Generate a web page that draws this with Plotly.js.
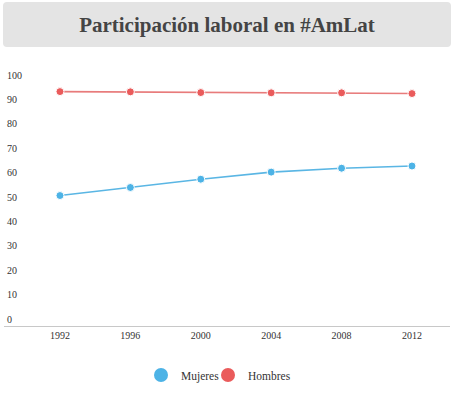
<!DOCTYPE html>
<html>
<head>
<meta charset="utf-8">
<script src="https://cdn.plot.ly/plotly-3.0.1.min.js"></script>
<style>html,body{margin:0;padding:0;background:#fff;}#chart{width:454px;height:396px;}</style>
</head>
<body>
<div id="chart"></div>
<script>
const years = [1992, 1996, 2000, 2004, 2008, 2012];
const mujeres = [50.6, 53.9, 57.3, 60.2, 61.8, 62.7];
const hombres = [93.2, 93.1, 92.8, 92.7, 92.7, 92.4];
const yTicks = [0, 10, 20, 30, 40, 50, 60, 70, 80, 90, 100];
const seriesNames = ['Mujeres', 'Hombres'];
const titleText = 'Participación laboral en #AmLat';

const W = 454, H = 396;
const M = {l: 4, r: 4, t: 60, b: 70};
const pw = W - M.l - M.r, ph = H - M.t - M.b;
const px = x => (x - M.l) / pw;
const py = y => (H - M.b - y) / ph;

const blue = '#4db3e6', red = '#ea5b5b';
const blueLine = '#5ab6e4', redLine = '#e87b7b';
const serif = '"Liberation Serif", "DejaVu Serif", serif';

const traces = [
  {x: years, y: mujeres, name: seriesNames[0], mode: 'lines+markers', showlegend: false,
   line: {color: blueLine, width: 1.6}, marker: {color: blue, size: 8, line: {color: '#fff', width: 1}}},
  {x: years, y: hombres, name: seriesNames[1], mode: 'lines+markers', showlegend: false,
   line: {color: redLine, width: 1.6}, marker: {color: red, size: 8, line: {color: '#fff', width: 1}}},
  {x: [null], y: [null], name: seriesNames[0], mode: 'markers', legend: 'legend', marker: {color: blue, size: 14}},
  {x: [null], y: [null], name: seriesNames[1], mode: 'markers', legend: 'legend2', marker: {color: red, size: 14}}
];

const legFont = {family: serif, size: 11.5, color: '#333'};
const clear = 'rgba(0,0,0,0)';
const r = 4, x0 = px(3), x1 = px(451), y0 = py(2), y1 = py(47);
const layout = {
  width: W, height: H,
  margin: M,
  paper_bgcolor: '#fff', plot_bgcolor: '#fff',
  font: {family: serif, color: '#333', size: 10},
  title: {text: '<b>' + titleText + '</b>', x: 0.5, xref: 'paper', xanchor: 'center', y: 1 - 25 / H, yanchor: 'middle',
          font: {family: serif, size: 21, color: '#444'}},
  xaxis: {
    type: 'linear', range: [1988.82, 2014.16], tickvals: years, ticktext: years.map(String),
    showgrid: false, zeroline: false, showline: true, linecolor: '#c8c8c8', linewidth: 1,
    ticks: '', tickfont: {family: serif, size: 10, color: '#333'}, fixedrange: true
  },
  yaxis: {
    range: [-2.87, 106.15], tickvals: yTicks, ticktext: yTicks.map(String),
    showgrid: false, zeroline: false, showline: false, ticks: '',
    ticklabelposition: 'inside', tickfont: {family: serif, size: 10, color: '#333'}, fixedrange: true
  },
  legend: {orientation: 'h', x: px(141), xanchor: 'left', y: py(375), yanchor: 'middle', font: legFont, itemwidth: 30, bgcolor: clear},
  legend2: {orientation: 'h', x: px(208), xanchor: 'left', y: py(375), yanchor: 'middle', font: legFont, itemwidth: 30, bgcolor: clear},
  shapes: [{
    type: 'path', xref: 'paper', yref: 'paper', layer: 'below',
    path: `M ${x0 + r / pw} ${y0} L ${x1 - r / pw} ${y0} Q ${x1} ${y0} ${x1} ${y0 - r / ph} L ${x1} ${y1 + r / ph} Q ${x1} ${y1} ${x1 - r / pw} ${y1} L ${x0 + r / pw} ${y1} Q ${x0} ${y1} ${x0} ${y1 + r / ph} L ${x0} ${y0 - r / ph} Q ${x0} ${y0} ${x0 + r / pw} ${y0} Z`,
    fillcolor: '#e4e4e4', line: {width: 0}
  }],
  hovermode: false
};

Plotly.newPlot('chart', traces, layout, {displayModeBar: false, staticPlot: true});
</script>
</body>
</html>
